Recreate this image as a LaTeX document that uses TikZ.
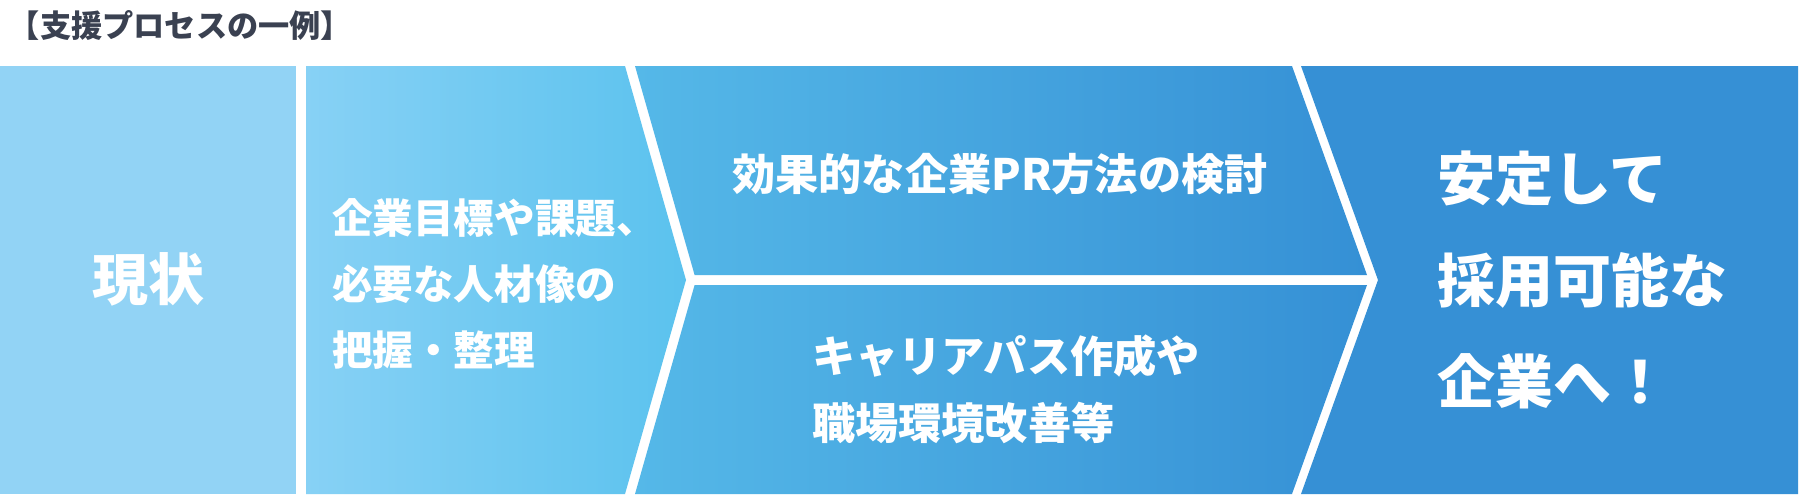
\documentclass[tikz,border=0pt]{standalone}
\usepackage{fontspec}
\setmainfont{Noto Sans CJK JP}
\definecolor{bone}{HTML}{92D3F5}
\definecolor{btwoL}{HTML}{87D1F5}
\definecolor{btwoR}{HTML}{5BC2EE}
\definecolor{midL}{HTML}{55B8E8}
\definecolor{midR}{HTML}{3590D5}
\definecolor{bfour}{HTML}{3690D5}
\definecolor{titlec}{HTML}{3A4151}
\tikzset{
  lbl/.style={text=white, inner sep=0pt, outer sep=0pt},
}
\begin{document}
\begin{tikzpicture}[x=0.5pt,y=-0.5pt]
\useasboundingbox (0,0) rectangle (1799,495);
\fill[white] (0,0) rectangle (1799,495);
% blocks
\fill[bone] (0,66) rectangle (296,494);
\shade[left color=btwoL, right color=btwoR] (306,66) -- (625,66) -- (686,280) -- (625,494) -- (306,494) -- cycle;
\shade[left color=midL, right color=midR] (635,66) -- (1292,66) -- (1367,275) -- (694.6,275) -- cycle;
\shade[left color=midL, right color=midR] (694.6,285) -- (1367,285) -- (1292,494) -- (635,494) -- cycle;
\fill[bfour] (1301,66) -- (1798,66) -- (1798,494) -- (1301,494) -- (1378,280) -- cycle;
% texts
\node[anchor=west, inner sep=0pt, text=titlec, font=\bfseries\fontsize{15.6}{18}\selectfont] (title) at (8.5,25.5) {【支援プロセスの一例】};
\node[lbl, font=\bfseries\fontsize{28}{34}\selectfont] (now) at (148,279) {現状};
\node[lbl, anchor=west, align=left, font=\bfseries\fontsize{20.3}{33}\selectfont] (grasp) at (332,284) {企業目標や課題、\\必要な人材像の\\把握・整理};
\node[lbl, font=\bfseries\fontsize{21.6}{26}\selectfont] (pr) at (1000,174) {効果的な企業PR方法の検討};
\node[lbl, anchor=west, align=left, font=\bfseries\fontsize{21.6}{33.5}\selectfont] (career) at (812,389) {キャリアパス作成や\\職場環境改善等};
\node[lbl, anchor=west, align=left, font=\bfseries\fontsize{29}{50.75}\selectfont] (goal) at (1437,280) {安定して\\採用可能な\\企業へ！};
\end{tikzpicture}
\end{document}
